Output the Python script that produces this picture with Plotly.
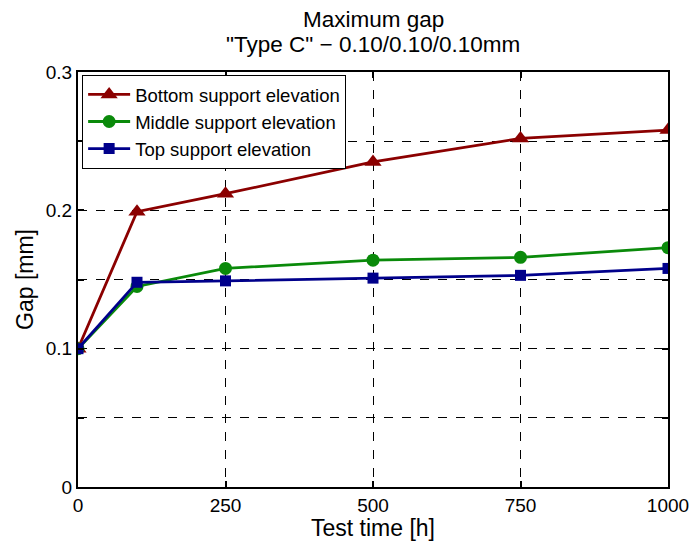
import plotly.graph_objects as go

# Test time [h]
test_time = [0, 100, 250, 500, 750, 1000]

# Maximum gap [mm] per support elevation
bottom_gap = [0.100, 0.199, 0.212, 0.235, 0.252, 0.258]
middle_gap = [0.100, 0.145, 0.158, 0.164, 0.166, 0.173]
top_gap = [0.100, 0.148, 0.149, 0.151, 0.153, 0.158]

x_ticks = [0, 250, 500, 750, 1000]
y_ticks = [0, 0.05, 0.1, 0.15, 0.2, 0.25, 0.3]
y_tick_text = ["0", "", "0.1", "", "0.2", "", "0.3"]

title_lines = ["Maximum gap", "\"Type C\" \u2212 0.10/0.10/0.10mm"]

font_family = "Liberation Sans, Arial, sans-serif"

series = [
    ("Bottom support elevation", bottom_gap, "#8b0000", "triangle-up", 15),
    ("Middle support elevation", middle_gap, "#0a8a0a", "circle", 13),
    ("Top support elevation", top_gap, "#00008b", "square", 11),
]

fig = go.Figure()
for name, values, color, symbol, size in series:
    fig.add_trace(go.Scatter(
        x=test_time, y=values, name=name, mode="lines+markers",
        line=dict(color=color, width=2.8),
        marker=dict(symbol=symbol, size=size, color=color),
    ))

axis_common = dict(
    showline=True, linecolor="black", linewidth=2, mirror="allticks",
    ticks="inside", ticklen=6, tickcolor="black", tickwidth=1.5,
    showgrid=True, gridcolor="black", gridwidth=1, griddash="dash",
    zeroline=False, automargin=False,
    tickfont=dict(size=19, color="black", family=font_family),
)

fig.update_xaxes(
    range=[0, 1000], tickvals=x_ticks,
    title=dict(text="Test time [h]", font=dict(size=23, color="black", family=font_family), standoff=2),
    **axis_common,
)
fig.update_yaxes(
    range=[0, 0.3], tickvals=y_ticks, ticktext=y_tick_text,
    title=dict(text="Gap [mm]", font=dict(size=23, color="black", family=font_family), standoff=6),
    **axis_common,
)

# Two-line heading placed above the plot area
for text, ypos in zip(title_lines, [1.1277, 1.0651]):
    fig.add_annotation(
        text=text, xref="paper", yref="paper", x=0.5, y=ypos,
        xanchor="center", yanchor="middle", showarrow=False,
        font=dict(size=22.5, color="black", family=font_family),
    )

fig.update_layout(
    width=691, height=541,
    margin=dict(l=78, r=23, t=72, b=54),
    paper_bgcolor="white", plot_bgcolor="white",
    legend=dict(
        x=0.007, y=0.993, xanchor="left", yanchor="top",
        bgcolor="white", bordercolor="black", borderwidth=1,
        font=dict(size=18.5, color="black", family=font_family),
        tracegroupgap=0, itemwidth=42,
    ),
    showlegend=True,
)

fig.write_html("out.html")
